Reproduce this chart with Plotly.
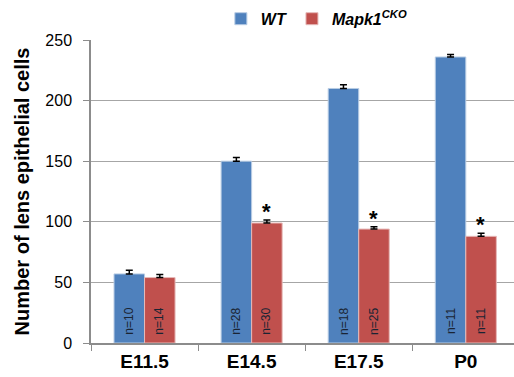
import plotly.graph_objects as go

stages = ["E11.5", "E14.5", "E17.5", "P0"]
wt_vals = [57, 150, 210, 236]
wt_err = [3, 3, 3, 2]
cko_vals = [54, 99, 94, 88]
cko_err = [2.5, 2.5, 2, 2.5]
wt_n = ["n=10", "n=28", "n=18", "n=11"]
cko_n = ["n=14", "n=30", "n=25", "n=11"]
significant = [False, True, True, True]

FONT = "Liberation Sans, Arial, sans-serif"
BLUE = "#4F81BD"
RED = "#C0504D"

fig = go.Figure()
fig.add_trace(go.Bar(
    x=stages, y=wt_vals, name="<b><i>WT</i></b>",
    marker=dict(color=BLUE, line=dict(color="#B8CCE4", width=1)),
    error_y=dict(type="data", array=wt_err, arrayminus=[0]*4, symmetric=False,
                 color="black", thickness=1.5, width=3.5),
))
fig.add_trace(go.Bar(
    x=stages, y=cko_vals, name="<b><i>Mapk1<sup>CKO</sup></i></b>",
    marker=dict(color=RED, line=dict(color="#E6B9B8", width=1)),
    error_y=dict(type="data", array=cko_err, arrayminus=[0]*4, symmetric=False,
                 color="black", thickness=1.5, width=3.5),
))

ann = []
for i, s in enumerate(stages):
    ann.append(dict(x=s, y=18, text=wt_n[i], textangle=-90, showarrow=False,
                    xshift=-15, font=dict(family=FONT, size=12, color="#1a2433")))
    ann.append(dict(x=s, y=18, text=cko_n[i], textangle=-90, showarrow=False,
                    xshift=15, font=dict(family=FONT, size=12, color="#1a2433")))
    if significant[i]:
        ann.append(dict(x=s, y=cko_vals[i] + cko_err[i], text="<b>*</b>", showarrow=False,
                        xshift=15, yanchor="bottom", yshift=-6,
                        font=dict(family=FONT, size=22, color="black")))

fig.update_layout(
    width=514, height=377,
    margin=dict(l=91, r=0, t=40, b=34),
    paper_bgcolor="white", plot_bgcolor="white",
    barmode="group", bargap=0.43, bargroupgap=0,
    font=dict(family=FONT, color="black"),
    showlegend=True,
    legend=dict(orientation="h", x=0.307, xanchor="left", y=1.07, yanchor="middle",
                font=dict(family=FONT, size=16, color="black"),
                itemwidth=30, traceorder="normal", bgcolor="rgba(0,0,0,0)",
                tracegroupgap=0),
    annotations=ann,
)
fig.update_xaxes(
    range=[-0.5, 3.45], showline=True, linecolor="#8c8c8c", linewidth=1.5,
    ticks="outside", tickson="boundaries", ticklen=6, tickcolor="#8c8c8c",
    tickfont=dict(family=FONT, size=19, color="black"),
    tickprefix="<b>", ticksuffix="</b>", automargin=False,
)
fig.update_yaxes(
    range=[0, 250], tickvals=[0, 50, 100, 150, 200, 250],
    showline=True, linecolor="#8c8c8c", linewidth=1.5,
    ticks="outside", ticklen=6, tickcolor="#8c8c8c",
    showgrid=True, gridcolor="#a6a6a6", gridwidth=1.2, zeroline=False,
    tickfont=dict(family=FONT, size=16, color="black"),
    tickprefix="<b>", ticksuffix="</b>", automargin=False,
    ticklabelstandoff=8,
    title=dict(text="<b>Number of lens epithelial cells</b>",
               font=dict(family=FONT, size=20, color="black"), standoff=10),
)

fig.write_html(
    "out.html",
    config={"displayModeBar": False},
    post_script="document.body.style.margin='0';document.body.style.overflow='hidden';",
)
